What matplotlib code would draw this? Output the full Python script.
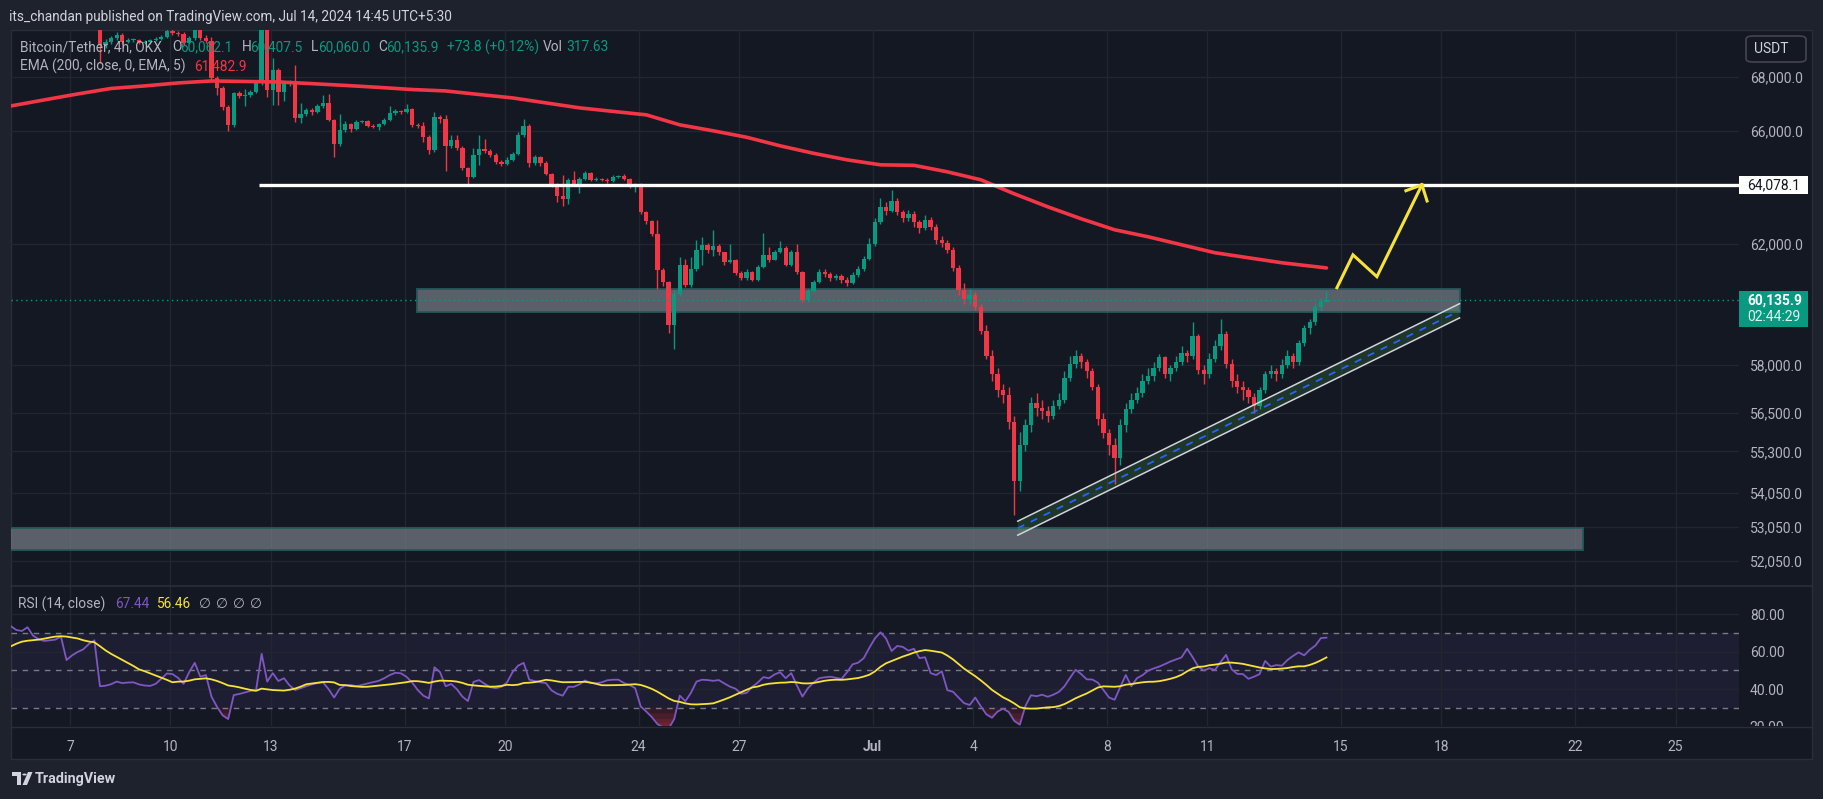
import numpy as np
import pandas as pd
import matplotlib
matplotlib.use("Agg")
import matplotlib.pyplot as plt
import matplotlib.dates as mdates
from matplotlib.patches import Rectangle, FancyBboxPatch, Polygon, Circle
from matplotlib.lines import Line2D
from matplotlib.ticker import NullLocator

plt.rcParams['font.family'] = ['Roboto', 'DejaVu Sans']

# ---------------- data ----------------
candle_start = "2024-06-07 21:30"   # 4h bars, local time UTC+5:30
open_first = 70300
close = [69210, 69330, 69480, 69590, 69325, 69400, 69410, 69300, 69330, 69400,
         69440, 69520, 69760, 69680, 69620, 69290, 69460, 69770, 69480, 69350,
         67960, 67590, 66890, 66230, 67400, 67290, 67330, 67440, 67780, 69800,
         67510, 68260, 67440, 67740, 67780, 66480, 66630, 66775, 66700, 66920,
         67030, 66410, 65540, 66040, 66260, 66080, 66340, 66360, 66200, 66150,
         66260, 66410, 66665, 66740, 66700, 66800, 66226, 66190, 65790, 65320,
         66520, 66450, 65460, 65680, 65390, 64670, 64340, 65140, 65360, 65280,
         65140, 64890, 64820, 64960, 65180, 65860, 66190, 64850, 65070, 64850,
         64460, 64100, 63680, 63570, 64240, 64100, 64280, 64500, 64240, 64280,
         64250, 64210, 64350, 64380, 64280, 64000, 64110, 63120, 62810, 62360,
         61140, 60730, 59300, 60330, 61300, 60630, 61170, 61810, 61980, 61810,
         61950, 61720, 61400, 61480, 61030, 60870, 61070, 60800, 61230, 61640,
         61480, 61750, 61880, 61300, 61750, 61070, 60130, 60430, 60730, 61070,
         60980, 60850, 60930, 60800, 60700, 60950, 61150, 61500, 62000, 62750,
         63300, 63150, 63500, 63100, 62900, 63050, 62750, 62550, 62850, 62600,
         62150, 62050, 61800, 61200, 60450, 60150, 60300, 59900, 59100, 58300,
         57700, 57200, 57050, 56200, 54400, 55500, 56100, 56800, 56650, 56550,
         56400, 56700, 56900, 57600, 58050, 58300, 58100, 57800, 57300, 56300,
         55850, 55500, 55100, 56100, 56600, 56900, 57100, 57500, 57650, 57900,
         58250, 57700, 57900, 58100, 58400, 58300, 58950, 57850, 57700, 58200,
         58600, 59000, 58050, 57500, 57300, 57200, 57000, 56700, 57200, 57700,
         57800, 57700, 58000, 58300, 58100, 58700, 59200, 59400, 59900, 60062.1,
         60135.9]
high = [70500, 69450, 69560, 69700, 69660, 69480, 69480, 69450, 69400, 69450,
        69500, 69600, 69900, 69850, 69750, 69700, 69550, 69950, 69850, 69600,
        69500, 68050, 67650, 66950, 67450, 67480, 67550, 67500, 67850, 70000,
        69850, 68720, 68350, 67800, 67900, 68450, 67030, 66850, 66850, 66980,
        67330, 67360, 66450, 66630, 66350, 66300, 66400, 66420, 66400, 66250,
        66300, 66480, 66900, 66800, 66780, 66980, 66850, 66300, 66340, 65850,
        66700, 66600, 66600, 65860, 65860, 65450, 64700, 65380, 65860, 65720,
        65350, 65200, 64950, 65050, 65250, 65970, 66450, 66250, 65150, 65100,
        64900, 64500, 64150, 64400, 64300, 64560, 64350, 64550, 64520, 64350,
        64320, 64300, 64400, 64420, 64450, 64300, 64150, 64120, 63150, 62850,
        62830, 61200, 60750, 60450, 61580, 61500, 61560, 62150, 62250, 62050,
        62500, 62000, 61750, 62000, 61500, 61100, 61150, 61100, 61300, 62390,
        61900, 61800, 62120, 61950, 61800, 62000, 61100, 60500, 60800, 61150,
        61150, 61050, 61000, 61000, 60900, 61050, 61250, 61600, 62200, 62900,
        63600, 63450, 63900, 63600, 63200, 63200, 63150, 62850, 63000, 62950,
        62700, 62300, 62150, 61900, 61300, 60700, 60500, 60400, 60000, 59300,
        58500, 57900, 57400, 57300, 56400, 55900, 56300, 57000, 57100, 56900,
        56700, 56900, 57100, 57800, 58300, 58500, 58400, 58200, 57900, 57400,
        56500, 56000, 55700, 56300, 56800, 57100, 57300, 57700, 57900, 58100,
        58350, 58300, 58000, 58300, 58600, 58500, 59400, 59000, 58000, 58400,
        58800, 59500, 59100, 58200, 57700, 57500, 57300, 57100, 57300, 57800,
        58000, 57900, 58200, 58500, 58400, 58800, 59300, 59500, 60000, 60200,
        60407.5]
low = [68530, 69100, 69250, 69400, 69250, 69280, 69340, 69250, 69240, 69250,
       69350, 69400, 69480, 69600, 69560, 69200, 69250, 69420, 69400, 69300,
       67800, 67330, 66775, 66010, 66150, 67200, 66900, 67250, 67400, 67700,
       67250, 66960, 66960, 67100, 67650, 66340, 66300, 66550, 66600, 66650,
       66850, 66350, 65070, 65470, 65950, 65980, 66050, 66280, 66150, 66100,
       66050, 66220, 66380, 66600, 66620, 66650, 66150, 66100, 65610, 65175,
       65250, 66300, 64566, 65400, 65300, 64600, 64080, 64300, 64780, 65200,
       65050, 64800, 64750, 64780, 64900, 65150, 65800, 64700, 64780, 64750,
       64400, 63990, 63470, 63330, 63400, 64050, 63780, 64250, 64200, 64200,
       64200, 64150, 64180, 64300, 64250, 63950, 63800, 63050, 62700, 62300,
       60490, 60580, 59040, 58520, 60250, 60550, 60550, 61100, 61300, 61700,
       61600, 61650, 61300, 61350, 60950, 60800, 60800, 60750, 60750, 61200,
       61400, 61450, 61700, 61250, 61250, 61000, 60050, 60050, 60380, 60700,
       60900, 60750, 60800, 60700, 60600, 60650, 60900, 61100, 61450, 61950,
       62700, 63000, 63100, 63000, 62750, 62800, 62600, 62400, 62500, 62500,
       62000, 61900, 61700, 61100, 60300, 60000, 60000, 59800, 59000, 58200,
       57500, 57000, 56800, 56000, 53400, 54100, 55300, 55900, 56400, 56300,
       56200, 56300, 56600, 56800, 57500, 57900, 57900, 57600, 57200, 56100,
       55700, 55200, 54300, 54900, 55900, 56500, 56800, 57000, 57400, 57500,
       57800, 57600, 57500, 57800, 58000, 58100, 58200, 57700, 57400, 57600,
       58100, 58500, 57900, 57300, 57100, 56900, 56800, 56500, 56600, 57100,
       57600, 57500, 57600, 57900, 57900, 58000, 58600, 59000, 59300, 59800,
       60060.0]

rsi_start = "2024-06-05 05:30"
rsi = [73.6, 71.5, 71.0, 73.0, 68.5, 66.6, 65.7, 66.0, 66.4, 68.0,
       55.5, 58.0, 59.8, 61.2, 64.0, 66.0, 41.5, 41.8, 42.6, 44.0,
       43.2, 43.5, 43.6, 42.5, 41.9, 41.7, 42.8, 45.5, 48.3, 48.0,
       46.0, 42.8, 49.0, 54.0, 46.6, 47.5, 36.0, 30.5, 26.0, 24.0,
       36.8, 37.4, 38.2, 39.0, 39.5, 58.8, 44.0, 48.5, 44.3, 45.8,
       42.0, 39.5, 40.5, 41.5, 42.5, 43.2, 43.6, 40.0, 35.5, 40.2,
       42.0, 42.2, 41.5, 42.2, 43.0, 43.7, 44.4, 45.8, 47.5, 48.7,
       48.4, 46.5, 43.5, 39.5, 36.5, 35.0, 51.6, 49.0, 41.5, 42.7,
       40.0, 36.0, 33.6, 43.8, 44.8, 42.8, 41.0, 40.5, 41.2, 43.5,
       49.0, 52.5, 54.0, 45.0, 44.3, 43.6, 43.2, 39.3, 37.5, 36.5,
       41.2, 41.2, 42.5, 44.6, 43.2, 43.1, 43.6, 44.7, 45.0, 45.0,
       43.2, 42.2, 40.5, 30.7, 28.0, 25.0, 21.3, 19.5, 18.8, 24.0,
       36.5, 33.5, 38.0, 44.0, 45.0, 44.8, 44.4, 44.8, 43.0, 41.3,
       40.2, 37.5, 38.0, 41.2, 43.5, 46.4, 45.8, 47.8, 49.0, 45.8,
       48.5, 42.0, 36.0, 40.5, 43.5, 45.8, 46.3, 46.6, 46.0, 45.4,
       49.0, 53.2, 54.1, 56.5, 62.0, 67.0, 70.3, 67.0, 60.3, 63.0,
       62.5, 60.5, 61.5, 56.5, 57.0, 48.5, 47.5, 49.5, 39.4, 38.6,
       35.5, 32.5, 31.5, 35.5, 30.8, 26.5, 24.7, 28.0, 29.5, 27.8,
       23.0, 21.0, 31.0, 36.7, 36.2, 37.0, 35.9, 37.0, 38.5, 41.5,
       46.0, 50.3, 48.0, 45.2, 45.1, 43.4, 39.5, 35.5, 34.3, 41.0,
       47.5, 41.5, 45.8, 47.4, 49.8, 51.0, 52.0, 53.3, 54.7, 55.8,
       56.9, 61.5, 57.0, 52.0, 49.9, 51.1, 50.2, 54.4, 58.3, 50.5,
       48.1, 48.0, 45.5, 46.6, 48.0, 55.0, 52.0, 52.8, 52.5, 55.5,
       57.7, 59.6, 58.0, 61.0, 63.2, 67.2, 67.44]
rsi_ma_head = [62.8, 64.2, 65.3, 65.8, 66.1, 66.4, 66.9, 67.5, 68.0, 68.2, 68.0, 67.5, 67.0]
rsi_ma_len = 14

ema_first_day = "2024-06-05 05:30"
ema_last_time = "2024-07-14 13:30"
ema = [66920, 67144, 67365, 67570, 67664, 67775, 67850, 67831, 67813, 67750,
       67683, 67610, 67530, 67477, 67345, 67218, 67033, 66850, 66720, 66592,
       66226, 66008, 65773, 65463, 65193, 64959, 64780, 64762, 64530, 64246,
       63752, 63296, 62879, 62498, 62257, 61983, 61710, 61540, 61370, 61195]

last_price = 60135.9
countdown = "02:44:29"
resistance = 64078.1
resistance_from = "2024-06-12 15:30"
supply_zone = (59716, 60490)
supply_span = ("2024-06-17 09:00", "2024-07-18 13:00")
demand_zone = (52368, 53010)
demand_span = ("2024-06-01 00:00", "2024-07-22 05:30")
channel_t = ["2024-07-05 08:00", "2024-07-18 13:00"]
channel_upper = [53210, 60000]
channel_lower = [52800, 59530]
path_t = ["2024-07-14 21:00", "2024-07-15 08:30", "2024-07-16 01:40", "2024-07-17 10:00"]
path_p = [60530, 61640, 60900, 64070]
barb_t = ["2024-07-16 22:30", "2024-07-17 13:40"]
barb_p = [63860, 63500]

price_ticks = [68000, 66000, 62000, 58000, 56500, 55300, 54050, 53050, 52050]
rsi_ticks = [80, 60, 40]
date_ticks = ["2024-06-07", "2024-06-10", "2024-06-13", "2024-06-17", "2024-06-20",
              "2024-06-24", "2024-06-27", "2024-07-01", "2024-07-04", "2024-07-08",
              "2024-07-11", "2024-07-15", "2024-07-18", "2024-07-22", "2024-07-25"]
date_labels = ["7", "10", "13", "17", "20", "24", "27", "Jul", "4", "8", "11", "15", "18", "22", "25"]

# ---------------- style ----------------
OUTER = '#1e222d'
CHART = '#141823'
GRID = '#22262f'
BORDER = '#2a2e39'
TXT = '#b2b5be'
UP = '#089981'
DN = '#f23645'

W, H = 1824, 799
fig = plt.figure(figsize=(W / 100, H / 100), dpi=100, facecolor=OUTER)
renderer = fig.canvas.get_renderer()


def fx(px):
    return px / W


def fy(py):
    return 1 - py / H


def frect(x0, y0, x1, y1, **kw):
    r = Rectangle((fx(x0), fy(y1)), (x1 - x0) / W, (y1 - y0) / H, transform=fig.transFigure, **kw)
    fig.add_artist(r)
    return r


def ftext(x, y, s, color, size=9.5, target=None, **kw):
    t = fig.text(fx(x), fy(y), s, color=color, fontsize=size, va='center', ha='left', **kw)
    if target:
        w = t.get_window_extent(renderer).width
        t.set_fontsize(size * target / w)
    return t


# panel
frect(11, 30, 1812, 759, facecolor=CHART, edgecolor=BORDER, lw=1, zorder=-5)

PL, PR = 11, 1739
ax = fig.add_axes([fx(PL), fy(585), (PR - PL) / W, (585 - 30) / H])
axr = fig.add_axes([fx(PL), fy(726), (PR - PL) / W, (726 - 586) / H], sharex=ax)
for a in (ax, axr):
    a.set_facecolor('none')
    for s in a.spines.values():
        s.set_visible(False)

base = mdates.date2num(pd.Timestamp("2024-06-07"))
ax.set_xlim(base - 1.7638, base + 49.895)

# ---------------- main pane ----------------
ax.set_yscale('log')
ax.set_ylim(51368, 69786)
ax.yaxis.set_minor_locator(NullLocator())
ax.set_yticks(price_ticks)
ax.set_yticklabels([f"{v:,.1f}" for v in price_ticks])
ax.yaxis.tick_right()
ax.tick_params(axis='y', length=0, pad=8, labelcolor=TXT, labelsize=10)
xt = mdates.date2num(pd.to_datetime(date_ticks))
ax.set_xticks(xt)
ax.tick_params(axis='x', length=0, labelbottom=False)
ax.grid(True, color=GRID, lw=1, zorder=0)

tc = mdates.date2num(pd.date_range(candle_start, periods=len(close), freq='4h'))
c = np.array(close, float)
o = np.r_[open_first, c[:-1]]
hi = np.array(high, float)
lo = np.array(low, float)
cols = np.where(c >= o, UP, DN)
ax.vlines(tc, lo, hi, colors=cols, lw=1, zorder=3)
ax.bar(tc, np.maximum(np.abs(c - o), c * 0.0006), bottom=np.minimum(o, c), width=0.13,
       color=cols, lw=0, zorder=4)

# zones
s0, s1 = mdates.date2num(pd.to_datetime(supply_span))
ax.add_patch(Rectangle((s0, supply_zone[0]), s1 - s0, supply_zone[1] - supply_zone[0],
                       facecolor='#787b86', alpha=0.72, edgecolor='none', zorder=2))
ax.add_patch(Rectangle((s0, supply_zone[0]), s1 - s0, supply_zone[1] - supply_zone[0],
                       facecolor='none', edgecolor='#24595b', lw=1.3, zorder=2.1))
d0, d1 = mdates.date2num(pd.to_datetime(demand_span))
ax.add_patch(Rectangle((d0, demand_zone[0]), d1 - d0, demand_zone[1] - demand_zone[0],
                       facecolor='#787b86', alpha=0.72, edgecolor='none', zorder=2))
ax.add_patch(Rectangle((d0, demand_zone[0]), d1 - d0, demand_zone[1] - demand_zone[0],
                       facecolor='none', edgecolor='#24595b', lw=1.3, zorder=2.1))

# EMA
te = mdates.date2num(pd.date_range(ema_first_day, periods=len(ema) - 1, freq='D')
                     .append(pd.DatetimeIndex([ema_last_time])))
ax.plot(te, ema, color=DN, lw=2.6, zorder=5, solid_capstyle='round')

# channel
ct = mdates.date2num(pd.to_datetime(channel_t))
ax.add_patch(Polygon([(ct[0], channel_upper[0]), (ct[1], channel_upper[1]),
                      (ct[1], channel_lower[1]), (ct[0], channel_lower[0])],
                     closed=True, facecolor='#4caf50', alpha=0.2, edgecolor='none', zorder=5))
ax.plot(ct, channel_upper, color='#d1d4dc', lw=1.1, zorder=6)
ax.plot(ct, channel_lower, color='#d1d4dc', lw=1.1, zorder=6)
mid = [np.sqrt(u * l) for u, l in zip(channel_upper, channel_lower)]
ax.plot(ct, mid, color='#2962ff', lw=1.3, ls=(0, (4, 4)), zorder=6)

# resistance line
ax.hlines(resistance, mdates.date2num(pd.Timestamp(resistance_from)), base + 49.895,
          color='white', lw=2.4, zorder=6)
# last price line
ax.axhline(last_price, color=UP, lw=1, ls=(0, (1, 2.5)), zorder=6)

# projected path
pt = mdates.date2num(pd.to_datetime(path_t))
ax.plot(pt, path_p, color='#f5e23b', lw=2.2, zorder=7, solid_joinstyle='miter')
bt = mdates.date2num(pd.to_datetime(barb_t))
for tb, pb in zip(bt, barb_p):
    ax.plot([tb, pt[-1]], [pb, path_p[-1]], color='#f5e23b', lw=2.2, zorder=7)

# ---------------- RSI pane ----------------
tr = mdates.date2num(pd.date_range(rsi_start, periods=len(rsi), freq='4h'))
r = np.array(rsi, float)
ma = pd.Series(r).rolling(rsi_ma_len).mean().to_numpy()
ma[:len(rsi_ma_head)] = rsi_ma_head
axr.set_ylim(20.3, 95)
axr.axhspan(30, 70, color='#7e57c2', alpha=0.10, lw=0, zorder=1)
for lvl in (70, 50, 30):
    axr.axhline(lvl, color='#787b86', lw=1, ls=(0, (4, 4)), zorder=2)
axr.set_yticks(rsi_ticks)
axr.set_yticklabels([f"{v:.2f}" for v in rsi_ticks])
axr.yaxis.tick_right()
axr.tick_params(axis='y', length=0, pad=8, labelcolor=TXT, labelsize=10)
axr.set_xticks(xt)
axr.set_xticklabels(date_labels)
axr.tick_params(axis='x', length=0, pad=10, labelcolor=TXT, labelsize=10)
for lab in axr.get_xticklabels():
    if lab.get_text() == 'Jul':
        lab.set_fontweight('bold')
axr.grid(True, color=GRID, lw=1, zorder=0)
# oversold gradient fill (stronger the deeper below 30)
for th in (30, 27, 24, 22, 20):
    axr.fill_between(tr, r, th, where=r < th, interpolate=True, color=DN, alpha=0.13, lw=0, zorder=2)
axr.plot(tr, r, color='#7e57c2', lw=1.3, zorder=3)
axr.plot(tr, ma, color='#f5e23b', lw=1.3, zorder=4)

# pane separators
fig.add_artist(Line2D([fx(11), fx(1812)], [fy(585.5), fy(585.5)], transform=fig.transFigure,
                      color=BORDER, lw=1.2))
fig.add_artist(Line2D([fx(11), fx(1812)], [fy(726.5), fy(726.5)], transform=fig.transFigure,
                      color=BORDER, lw=1))

clip = Rectangle((fx(1739), fy(726)), (1812 - 1739) / W, (726 - 586) / H, transform=fig.transFigure)
t20 = fig.text(fx(1749), fy(727.5), "20.00", color=TXT, fontsize=10, va='center', ha='left')
t20.set_clip_path(clip)

# ---------------- price labels ----------------
frect(1739, 176, 1808, 194, facecolor='white', edgecolor='none', zorder=10)
ftext(1747, 185, f"{resistance:,.1f}", '#131722', size=10, zorder=11)
frect(1739, 291, 1808, 327, facecolor=UP, edgecolor='none', zorder=10)
ftext(1747, 300.5, f"{last_price:,.1f}", 'white', size=10, zorder=11, fontweight='bold')
ftext(1747, 317, countdown, '#e0f2ee', size=10, zorder=11)
fig.add_artist(FancyBboxPatch((fx(1746), fy(62)), (1806 - 1746) / W, (62 - 36) / H,
                              boxstyle="round,pad=0,rounding_size=0.004", transform=fig.transFigure,
                              facecolor=CHART, edgecolor='#434651', lw=1.2, zorder=10))
ftext(1754, 49, "USDT", '#d1d4dc', size=10, zorder=11)

# ---------------- header / legends ----------------
ftext(9, 17, "its_chandan published on TradingView.com, Jul 14, 2024 14:45 UTC+5:30", '#d1d4dc',
      size=10, target=443)
LG = '#b2b5be'
t0 = ftext(20, 47, "Bitcoin/Tether, 4h, OKX", LG, size=9.5, target=143)
fs = t0.get_fontsize()
for x, s, col in [(172, "O", LG), (180, "60,062.1", UP), (242, "H", LG), (250, "60,407.5", UP),
                  (311, "L", LG), (318, "60,060.0", UP), (378, "C", LG), (386, "60,135.9", UP),
                  (447, "+73.8 (+0.12%)", UP), (543, "Vol", LG), (566, "317.63", UP)]:
    ftext(x, 47, s, col, size=fs)
ftext(20, 66, "EMA (200, close, 0, EMA, 5)", LG, size=fs)
ftext(194, 66, "61,482.9", DN, size=fs)
ftext(18, 604, "RSI (14, close)", LG, size=fs)
ftext(115, 604, "67.44", '#7e57c2', size=fs)
ftext(156, 604, "56.46", '#f5e23b', size=fs)
for x in (199, 216, 233, 250):
    ftext(x, 604, "\u2205", LG, size=fs)

# TradingView logo
LC = '#d1d4dc'
frect(12, 772, 21, 776, facecolor=LC, edgecolor='none')
frect(17, 772, 21, 785, facecolor=LC, edgecolor='none')
fig.add_artist(Circle((fx(24.5), fy(774.5)), 2.2 / W, transform=fig.transFigure, facecolor=LC,
                      edgecolor='none'))
fig.add_artist(Polygon([(fx(28), fy(772)), (fx(32.5), fy(772)), (fx(27), fy(785)), (fx(22.5), fy(785))],
                       closed=True, transform=fig.transFigure, facecolor=LC, edgecolor='none'))
ftext(35, 778.5, "TradingView", LC, size=10.5, target=82, fontweight='bold')

fig.savefig("out.png", dpi=100, facecolor=OUTER)
